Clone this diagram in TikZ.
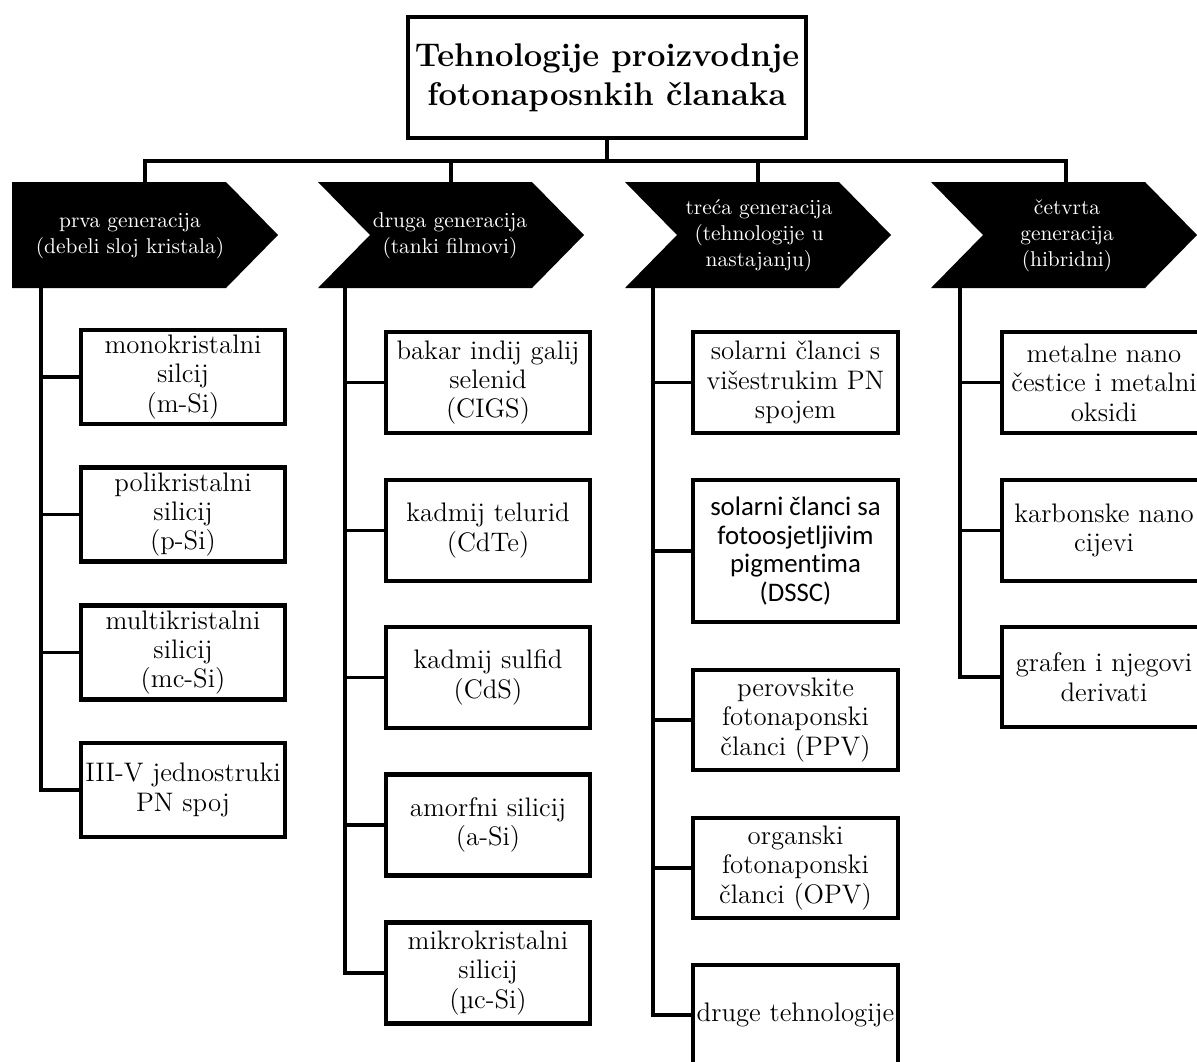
\documentclass[tikz,border=0pt]{standalone}
\usepackage{fontspec}
\newfontfamily\calib[Ligatures=NoCommon]{Carlito}
\begin{document}
\begin{tikzpicture}[x=0.5pt,y=-0.5pt,
  conn/.style={line width=1.6pt},
  leaf/.style={draw, line width=2.1pt, minimum width=102.3pt, inner sep=1pt, align=center,
    font=\fontsize{13.4}{14.7}\selectfont},
  hdrtext/.style={text=white, align=center, font=\fontsize{10.7}{13}\selectfont, inner sep=0pt},
  hdrshape/.style={fill=black},
  titlebox/.style={draw, line width=2.2pt, minimum width=198.3pt, minimum height=60.3pt, align=center,
    font=\fontsize{16.4}{19.5}\selectfont\bfseries}]
\useasboundingbox[fill=white] (0,0) rectangle (1197,1061);

% title
\node[titlebox] (title) at (607,77.5) {Tehnologije proizvodnje\\fotonaposnkih članaka};

% header chevrons
\fill[hdrshape] (12,182) -- (226,182) -- (278,235) -- (226,288) -- (12,288) -- cycle;
\fill[hdrshape] (318,182) -- (532,182) -- (584,235) -- (532,288) -- (318,288) -- (370,235) -- cycle;
\fill[hdrshape] (625,182) -- (839,182) -- (891,235) -- (839,288) -- (625,288) -- (677,235) -- cycle;
\fill[hdrshape] (931,182) -- (1145,182) -- (1197,235) -- (1145,288) -- (931,288) -- (983,235) -- cycle;

\node[hdrtext] (h1) at (130,236) {prva generacija\\(debeli sloj kristala)};
\node[hdrtext] (h2) at (450,236) {druga generacija\\(tanki filmovi)};
\node[hdrtext] (h3) at (759,236) {treća generacija\\(tehnologije u\\nastajanju)};
\node[hdrtext] (h4) at (1067,236) {četvrta\\generacija\\(hibridni)};

\coordinate (bus) at (607,161);
\coordinate (t1) at (145,182);
\coordinate (t2) at (451,182);
\coordinate (t3) at (758,182);
\coordinate (t4) at (1066,182);
\coordinate (s1) at (41,288);
\coordinate (s2) at (345,288);
\coordinate (s3) at (653,288);
\coordinate (s4) at (960,288);

% column 1
\node[leaf, minimum height=47pt] (a1) at (183,377) {monokristalni\\silcij\\(m-Si)};
\node[leaf, minimum height=47pt] (a2) at (183,514.5) {polikristalni\\silicij\\(p-Si)};
\node[leaf, minimum height=47pt] (a3) at (183,652.5) {multikristalni\\silicij\\(mc-Si)};
\node[leaf, minimum height=47pt] (a4) at (183,790) {III-V jednostruki\\PN spoj};

% column 2
\node[leaf, minimum height=50.5pt] (b1) at (488,382.5) {bakar indij galij\\selenid\\(CIGS)};
\node[leaf, minimum height=50.5pt] (b2) at (488,530.5) {kadmij telurid\\(CdTe)};
\node[leaf, minimum height=50.5pt] (b3) at (488,677.5) {kadmij sulfid\\(CdS)};
\node[leaf, minimum height=50.5pt] (b4) at (488,825) {amorfni silicij\\(a-Si)};
\node[leaf, minimum height=50.5pt] (b5) at (488,973) {mikrokristalni\\silicij\\(µc-Si)};

% column 3
\node[leaf, minimum height=50.5pt] (c1) at (795.5,382.5) {solarni članci s\\višestrukim PN\\spojem};
\node[leaf, minimum height=71pt, font={\fontsize{13.4}{14.4}\selectfont\calib}] (c2) at (795.5,551) {solarni članci sa\\fotoosjetljivim\\pigmentima\\(DSSC)};
\node[leaf, minimum height=50pt] (c3) at (795.5,720) {perovskite\\fotonaponski\\članci (PPV)};
\node[leaf, minimum height=50pt] (c4) at (795.5,868) {organski\\fotonaponski\\članci (OPV)};
\node[leaf, minimum height=50pt] (c5) at (795.5,1015) {druge tehnologije};

% column 4
\node[leaf, minimum height=50.5pt] (d1) at (1104,382.5) {metalne nano\\čestice i metalni\\oksidi};
\node[leaf, minimum height=50.5pt] (d2) at (1104,530.5) {karbonske nano\\cijevi};
\node[leaf, minimum height=50pt] (d3) at (1104,677) {grafen i njegovi\\derivati};

% top connectors
\draw[conn] (title.south) -- (bus);
\draw[conn] (t1) |- (bus) -| (t4);
\draw[conn] (t2) -- (t2 |- bus);
\draw[conn] (t3) -- (t3 |- bus);

% column connectors
\draw[conn] (s1) |- (a4.west);
\foreach \n in {a1,a2,a3} \draw[conn] (s1 |- \n.west) -- (\n.west);
\draw[conn] (s2) |- (b5.west);
\foreach \n in {b1,b2,b3,b4} \draw[conn] (s2 |- \n.west) -- (\n.west);
\draw[conn] (s3) |- (c5.west);
\foreach \n in {c1,c2,c3,c4} \draw[conn] (s3 |- \n.west) -- (\n.west);
\draw[conn] (s4) |- (d3.west);
\foreach \n in {d1,d2} \draw[conn] (s4 |- \n.west) -- (\n.west);
\end{tikzpicture}
\end{document}
